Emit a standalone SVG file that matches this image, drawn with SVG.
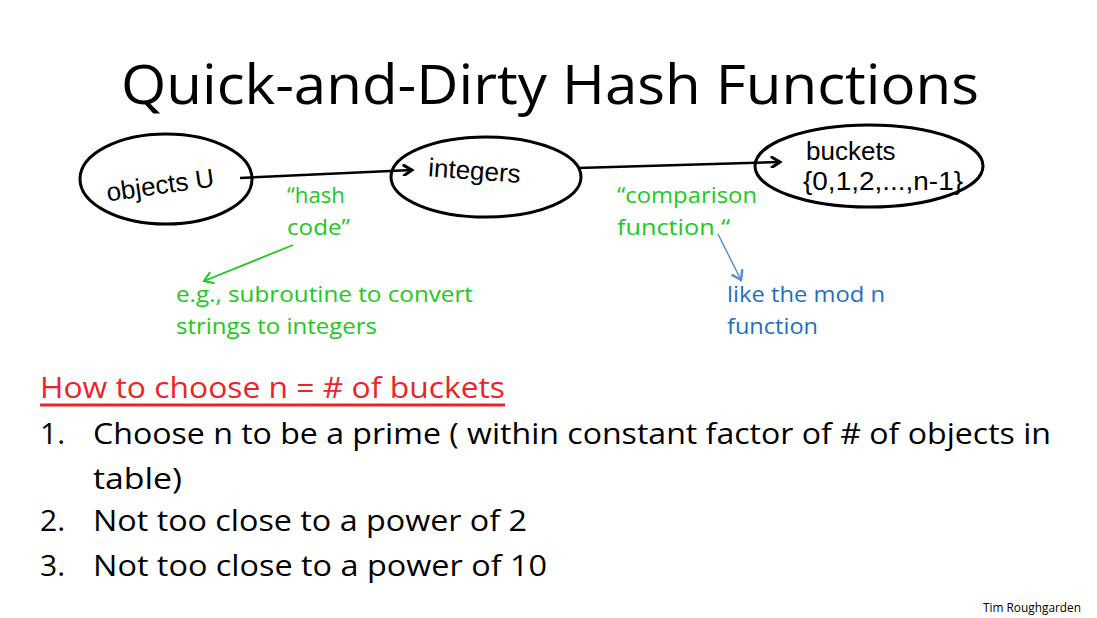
<svg xmlns="http://www.w3.org/2000/svg" width="1097" height="618" viewBox="0 0 1097 618">
<defs>
<style>
.t{font-family:"Open Sans","Liberation Sans",sans-serif;}
.hw{font-family:"Liberation Sans",sans-serif;font-size:26px;fill:#000;}
.g{fill:#1ec81e;font-size:22px;}
.b{fill:#1f6fbf;font-size:22px;}
.l{fill:#000;font-size:30px;}
.node{fill:none;stroke:#000;stroke-width:3;}
</style>
<marker id="ah" markerWidth="12" markerHeight="12" refX="10" refY="6" orient="auto" markerUnits="userSpaceOnUse">
<path d="M2,1 L10,6 L2,11" fill="none" stroke="#000" stroke-width="3" stroke-linecap="round"/>
</marker>
<marker id="ahg" markerWidth="14" markerHeight="14" refX="12" refY="7" orient="auto" markerUnits="userSpaceOnUse">
<path d="M3,1 L12,7 L3,13" fill="none" stroke="#1ec81e" stroke-width="2"/>
</marker>
<marker id="ahb" markerWidth="14" markerHeight="14" refX="12" refY="7" orient="auto" markerUnits="userSpaceOnUse">
<path d="M3,1 L12,7 L3,13" fill="none" stroke="#5b8fd0" stroke-width="2.5"/>
</marker>
</defs>
<rect width="1097" height="618" fill="#fff"/>
<text class="t" x="550" y="104" text-anchor="middle" font-size="54" textLength="858" lengthAdjust="spacingAndGlyphs" fill="#000">Quick-and-Dirty Hash Functions</text>

<g id="objects">
<ellipse class="node" cx="166" cy="179" rx="86" ry="45"/>
<text class="hw" x="106" y="194" transform="rotate(-8 160 185)">objects U</text>
</g>
<g id="integers">
<ellipse class="node" cx="486" cy="177" rx="95" ry="40"/>
<text class="hw" x="428" y="180" transform="rotate(4 480 175)">integers</text>
</g>
<g id="buckets">
<ellipse class="node" cx="869" cy="166" rx="114" ry="41"/>
<text class="hw" x="806" y="160">buckets</text>
<text class="hw" x="803" y="190" font-size="18" textLength="160" lengthAdjust="spacingAndGlyphs">{0,1,2,...,n-1}</text>
</g>

<g id="connectors">
<path d="M240,178 L412,170" fill="none" stroke="#000" stroke-width="2.5" marker-end="url(#ah)"/>
<path d="M578,168 L780,162" fill="none" stroke="#000" stroke-width="2.5" marker-end="url(#ah)"/>
<path d="M293,245 L204,281" fill="none" stroke="#1ec81e" stroke-width="1.8" marker-end="url(#ahg)"/>
<path d="M718,234 L741,280" fill="none" stroke="#5b8fd0" stroke-width="1.5" marker-end="url(#ahb)"/>
</g>

<g id="labels">
<text class="t g" x="287" y="203" textLength="58" lengthAdjust="spacingAndGlyphs">“hash</text>
<text class="t g" x="287" y="235" textLength="63" lengthAdjust="spacingAndGlyphs">code”</text>
<text class="t g" x="617" y="203" textLength="140" lengthAdjust="spacingAndGlyphs">“comparison</text>
<text class="t g" x="617" y="235" textLength="113" lengthAdjust="spacingAndGlyphs">function “</text>
<text class="t g" x="176" y="302" textLength="297" lengthAdjust="spacingAndGlyphs">e.g., subroutine to convert</text>
<text class="t g" x="176" y="334" textLength="201" lengthAdjust="spacingAndGlyphs">strings to integers</text>
<text class="t b" x="727" y="302" textLength="158" lengthAdjust="spacingAndGlyphs">like the mod n</text>
<text class="t b" x="727" y="334" textLength="91" lengthAdjust="spacingAndGlyphs">function</text>
</g>

<g id="list">
<text class="t" x="40" y="398" font-size="29" fill="#e8262a" textLength="465" lengthAdjust="spacingAndGlyphs">How to choose n = # of buckets</text>
<line x1="40" y1="405" x2="505" y2="405" stroke="#e8262a" stroke-width="3"/>
<text class="t l" x="40" y="444">1.</text>
<text class="t l" x="93" y="444" textLength="958" lengthAdjust="spacingAndGlyphs">Choose n to be a prime ( within constant factor of # of objects in</text>
<text class="t l" x="93" y="489" textLength="89" lengthAdjust="spacingAndGlyphs">table)</text>
<text class="t l" x="40" y="531">2.</text>
<text class="t l" x="93" y="531" textLength="434" lengthAdjust="spacingAndGlyphs">Not too close to a power of 2</text>
<text class="t l" x="40" y="576">3.</text>
<text class="t l" x="93" y="576" textLength="454" lengthAdjust="spacingAndGlyphs">Not too close to a power of 10</text>
</g>
<text class="t" x="983" y="612" font-size="12" fill="#000" textLength="98" lengthAdjust="spacingAndGlyphs">Tim Roughgarden</text>
</svg>
